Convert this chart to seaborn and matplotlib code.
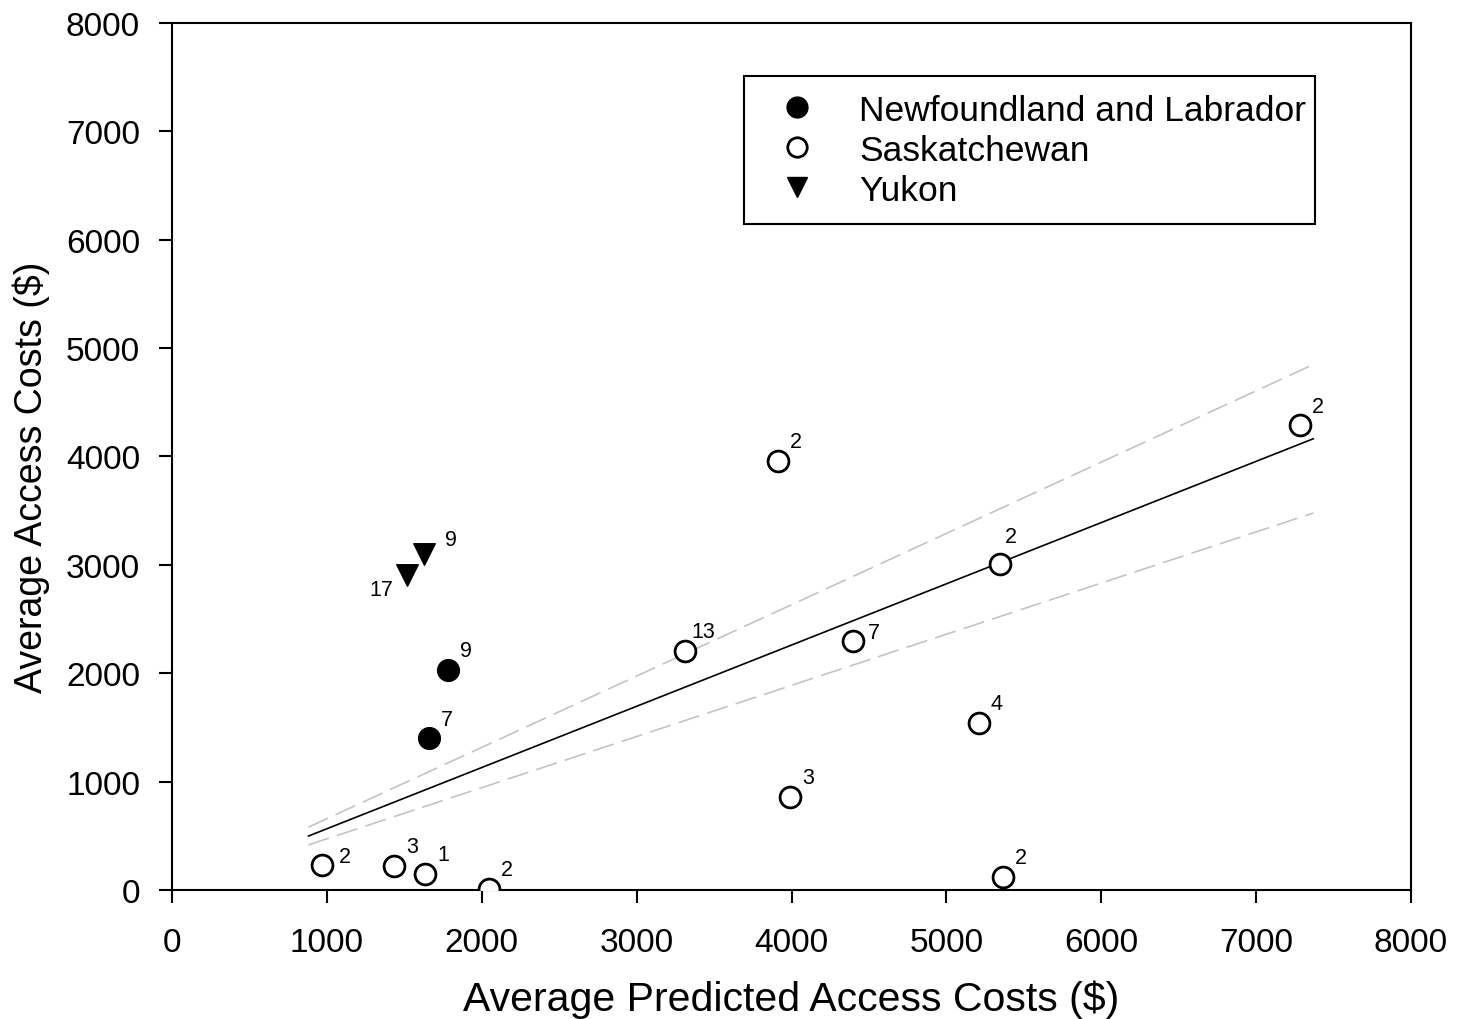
import numpy as np
import pandas as pd
import matplotlib
matplotlib.use("Agg")
import matplotlib.pyplot as plt
import seaborn as sns
from matplotlib.lines import Line2D

# ---------------- data ----------------
provinces = ["Newfoundland and Labrador", "Saskatchewan", "Yukon"]

nl_pred = [1782, 1659]
nl_actual = [2030, 1402]
nl_n = ["9", "7"]

sk_pred = [968, 1433, 1633, 2046, 3312, 3912, 3990, 4396, 5210, 5345, 5365, 7282]
sk_actual = [231, 221, 148, 9, 2205, 3958, 858, 2297, 1541, 3007, 120, 4290]
sk_n = ["2", "3", "1", "2", "13", "2", "3", "7", "4", "2", "2", "2"]

yk_pred = [1627, 1517]
yk_actual = [3100, 2906]
yk_n = ["9", "17"]

# regression through origin and its confidence band (half-width proportional to x)
fit_slope = 0.565
ci_half_slope = 0.093
fit_range = [880, 7370]

x_ticks = [0, 1000, 2000, 3000, 4000, 5000, 6000, 7000, 8000]
y_ticks = [0, 1000, 2000, 3000, 4000, 5000, 6000, 7000, 8000]

x_label = "Average Predicted Access Costs ($)"
y_label = "Average Access Costs ($)"

# ---------------- build frame ----------------
df = pd.concat([
    pd.DataFrame({"pred": nl_pred, "actual": nl_actual, "n": nl_n, "prov": provinces[0]}),
    pd.DataFrame({"pred": sk_pred, "actual": sk_actual, "n": sk_n, "prov": provinces[1]}),
    pd.DataFrame({"pred": yk_pred, "actual": yk_actual, "n": yk_n, "prov": provinces[2]}),
], ignore_index=True)

# annotation layout (offsets in points from marker centre), default + exceptions
default_offset = (13, 13.7)
offset_exceptions = {2: (16.6, 5.8), 9: (15.1, 6.5), 11: (7.9, 20.2),
                     14: (19.4, 10.8), 15: (-18.7, -10.1)}

sns.set_style("ticks")
plt.rcParams["font.family"] = ["Liberation Sans", "DejaVu Sans"]
for k in ["text.color", "axes.labelcolor", "xtick.color", "ytick.color", "axes.edgecolor"]:
    plt.rcParams[k] = "black"

fig = plt.figure(figsize=(14.68, 10.20), dpi=100)
ax = fig.add_axes([0.1172, 0.1265, 0.844, 0.85])

# fit line and confidence band
xs = np.linspace(fit_range[0], fit_range[1], 200)
sns.lineplot(x=xs, y=fit_slope * xs, ax=ax, color="black", linewidth=1.2, zorder=2)
sns.lineplot(x=xs, y=(fit_slope + ci_half_slope) * xs, ax=ax, color="#c4c4c4",
             linewidth=1.2, zorder=1)
sns.lineplot(x=xs, y=(fit_slope - ci_half_slope) * xs, ax=ax, color="#c4c4c4",
             linewidth=1.2, zorder=1)
for ln in ax.lines[1:3]:
    ln.set_dashes((13, 5))

styles = {
    provinces[0]: dict(marker="o", s=245, color="black", edgecolor="black", linewidth=1.0),
    provinces[1]: dict(marker="o", s=225, color="white", edgecolor="black", linewidth=2.0),
    provinces[2]: dict(marker="v", s=240, color="black", edgecolor="black", linewidth=1.0),
}
for p in provinces:
    sub = df[df["prov"] == p]
    sns.scatterplot(data=sub, x="pred", y="actual", ax=ax, legend=False, zorder=3, **styles[p])

# count annotations
for i, r in df.iterrows():
    off = offset_exceptions.get(i, default_offset)
    ax.annotate(r["n"], (r["pred"], r["actual"]), xytext=off, textcoords="offset points",
                ha="center", va="center", fontsize=15.5)

ax.set_xlim(0, 8000)
ax.set_ylim(0, 8000)
ax.set_xticks(x_ticks)
ax.set_yticks(y_ticks)
ax.set_xlabel(x_label, fontsize=29.5, labelpad=16)
ax.set_ylabel(y_label, fontsize=27)
ax.yaxis.set_label_coords(-0.0985, 0.477)
ax.tick_params(axis="both", direction="out", length=9.5, width=1.5, labelsize=24)
ax.tick_params(axis="x", pad=17)
ax.tick_params(axis="y", pad=13.5)
for sp in ax.spines.values():
    sp.set_visible(True)
    sp.set_linewidth(1.5)
    sp.set_color("black")

handles = [
    Line2D([], [], linestyle="none", marker="o", markersize=15, markerfacecolor="black",
           markeredgecolor="black"),
    Line2D([], [], linestyle="none", marker="o", markersize=14, markerfacecolor="white",
           markeredgecolor="black", markeredgewidth=2.0),
    Line2D([], [], linestyle="none", marker="v", markersize=15, markerfacecolor="black",
           markeredgecolor="black"),
]
leg = ax.legend(handles, provinces, loc="upper left",
                bbox_to_anchor=(0.4617, 0.7728, 0.4608, 0.1662), mode="expand",
                borderaxespad=0, fontsize=25.5, frameon=True, fancybox=False,
                framealpha=1, edgecolor="black", borderpad=0.5, labelspacing=0.2,
                handlelength=2.0, handletextpad=0.75)
leg.get_frame().set_linewidth(1.5)

fig.savefig("out.png", dpi=100)
